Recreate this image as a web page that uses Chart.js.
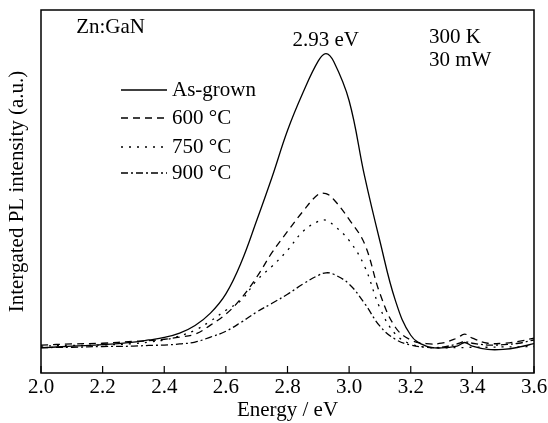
<!DOCTYPE html>
<html>
<head>
<meta charset="utf-8">
<script src="https://cdn.jsdelivr.net/npm/chart.js@4.4.0/dist/chart.umd.min.js"></script>
<style>
  html, body { margin: 0; padding: 0; background: #fff; }
  #wrap { width: 548px; height: 423px; }
</style>
</head>
<body>
<div id="wrap"><canvas id="pl"></canvas></div>
<script>
const energy = [2.0, 2.1, 2.2, 2.3, 2.35, 2.4, 2.45, 2.5, 2.55, 2.6, 2.65, 2.7, 2.75, 2.8, 2.85, 2.9, 2.925, 2.95,
  3.0, 3.05, 3.1, 3.15, 3.2, 3.25, 3.3, 3.35, 3.375, 3.4, 3.45, 3.5, 3.55, 3.6];
const asGrown = [6.9, 7.4, 7.8, 8.5, 9.1, 9.8, 11.0, 13.1, 16.5, 21.8, 30.5, 42.0, 54.0, 66.8, 77.2, 86.0, 88.0, 85.8,
  75.0, 54.3, 36.3, 20.0, 10.4, 7.4, 6.9, 7.4, 8.4, 7.4, 6.5, 6.5, 7.1, 8.1];
const t600 = [7.7, 8.0, 8.2, 8.7, 8.9, 9.3, 9.9, 10.7, 13.2, 16.2, 20.6, 26.4, 33.2, 39.0, 44.5, 49.2, 49.4, 47.8,
  42.3, 35.6, 21.9, 12.6, 9.1, 8.1, 8.2, 9.6, 10.7, 9.6, 8.2, 8.2, 8.7, 9.6];
const t750 = [7.4, 7.6, 7.7, 8.1, 8.5, 9.1, 10.2, 11.8, 14.3, 17.3, 20.1, 25.5, 29.4, 33.8, 39.0, 41.8, 42.1, 40.7,
  36.5, 29.4, 17.9, 10.7, 8.0, 7.1, 6.9, 7.0, 7.0, 7.1, 7.1, 7.2, 7.2, 7.3];
const t900 = [7.0, 7.1, 7.3, 7.4, 7.6, 7.7, 8.0, 8.5, 9.9, 11.5, 14.0, 16.8, 19.2, 21.7, 24.5, 26.9, 27.6, 27.2,
  24.5, 19.2, 12.9, 9.3, 7.7, 7.1, 7.1, 8.0, 8.6, 8.2, 7.7, 7.8, 8.2, 9.1];
const seriesNames = ["As-grown", "600 °C", "750 °C", "900 °C"];
const dashes = [[], [7, 5], [2, 6], [7, 3, 2, 3]];

const FONT = "'Liberation Serif', 'Times New Roman', serif";

const toPoints = (vals) => energy.map((e, i) => ({ x: e, y: vals[i] }));

const datasets = [asGrown, t600, t750, t900].map((vals, i) => ({
  label: seriesNames[i],
  data: toPoints(vals),
  borderColor: "#000",
  borderWidth: 1.3,
  borderDash: dashes[i],
  pointRadius: 0,
  fill: false,
  tension: 0.4,
}));

// box border, inward ticks, legend and notes
const decor = {
  id: "decor",
  afterDraw(chart) {
    const { ctx, chartArea: a, scales } = chart;
    const x = scales.x, y = scales.y;
    ctx.save();
    ctx.strokeStyle = "#000";
    ctx.lineWidth = 1.5;
    ctx.strokeRect(a.left, a.top, a.right - a.left, a.bottom - a.top);

    ctx.lineWidth = 1.2;
    x.ticks.forEach((t) => {
      const px = x.getPixelForValue(t.value);
      ctx.beginPath();
      ctx.moveTo(px, a.bottom);
      ctx.lineTo(px, a.bottom - 7);
      ctx.stroke();
    });

    ctx.fillStyle = "#000";
    ctx.font = "21px " + FONT;
    ctx.textBaseline = "middle";
    ctx.textAlign = "left";
    ctx.fillText("Zn:GaN", x.getPixelForValue(2.114), y.getPixelForValue(95.3));
    ctx.fillText("300 K", x.getPixelForValue(3.259), y.getPixelForValue(92.3));
    ctx.fillText("30 mW", x.getPixelForValue(3.259), y.getPixelForValue(86.0));
    ctx.textAlign = "center";
    ctx.fillText("2.93 eV", x.getPixelForValue(2.924), y.getPixelForValue(91.7));

    // legend
    const rowY = [90, 118, 147, 173];
    chart.data.datasets.forEach((ds, i) => {
      const yy = rowY[i];
      ctx.setLineDash(ds.borderDash);
      ctx.lineWidth = 1.3;
      ctx.beginPath();
      ctx.moveTo(121, yy);
      ctx.lineTo(167, yy);
      ctx.stroke();
      ctx.setLineDash([]);
      ctx.textAlign = "left";
      ctx.fillText(ds.label, 172, yy);
    });
    ctx.restore();
  },
};

new Chart(document.getElementById("pl"), {
  type: "line",
  data: { datasets },
  options: {
    responsive: true,
    maintainAspectRatio: false,
    animation: false,
    layout: { padding: { top: 10, right: 0, left: 0, bottom: 0 } },
    plugins: { legend: { display: false }, tooltip: { enabled: false } },
    scales: {
      x: {
        type: "linear",
        min: 2.0,
        max: 3.6,
        ticks: {
          stepSize: 0.2,
          padding: 4,
          color: "#000",
          font: { family: FONT, size: 21, lineHeight: 1 },
          callback: (v) => v.toFixed(1),
        },
        grid: { display: false, drawTicks: false },
        border: { display: false },
        title: {
          display: true,
          text: "Energy / eV",
          color: "#000",
          font: { family: FONT, size: 21, lineHeight: 1 },
          padding: { top: 2, bottom: 2 },
        },
        afterFit: (s) => {
          s.height = 50;
          s.paddingRight = 14;
        },
      },
      y: {
        min: 0,
        max: 100,
        ticks: { display: false },
        grid: { display: false, drawTicks: false },
        border: { display: false },
        title: {
          display: true,
          text: "Intergated PL intensity (a.u.)",
          color: "#000",
          font: { family: FONT, size: 21, lineHeight: 1 },
          padding: { top: 7, bottom: 0 },
        },
        afterFit: (s) => { s.width = 41; },
      },
    },
  },
  plugins: [decor],
});
</script>
</body>
</html>
